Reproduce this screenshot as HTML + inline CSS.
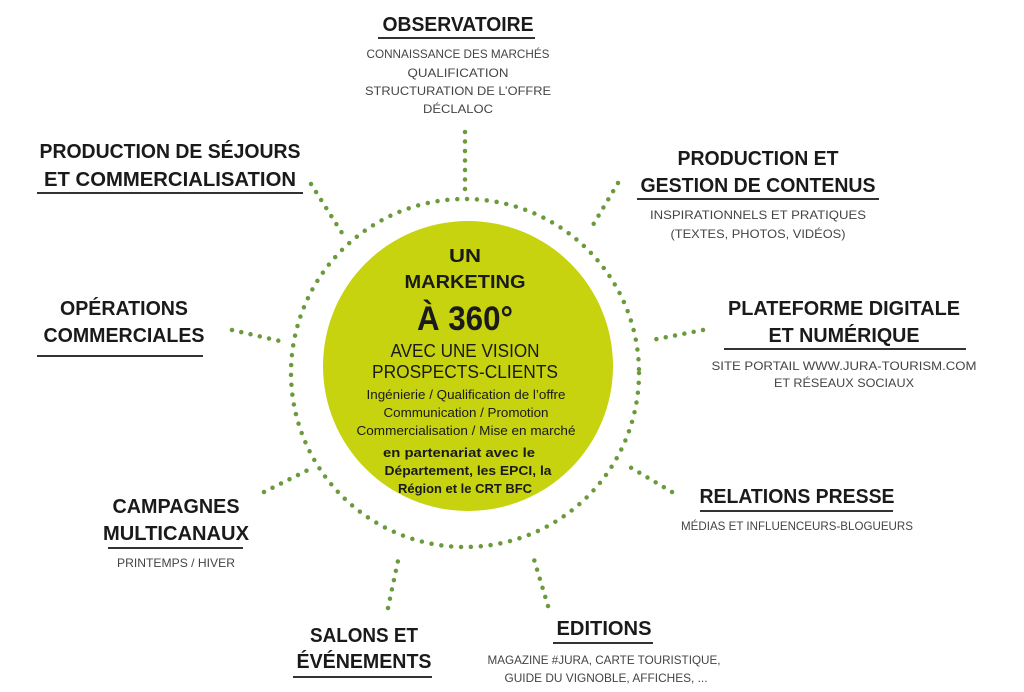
<!DOCTYPE html>
<html><head><meta charset="utf-8"><style>
html,body{margin:0;padding:0;background:#fff;}
svg{display:block;}
.h{font-family:"Liberation Sans",sans-serif;font-weight:bold;font-size:20px;fill:#1a1a1a;}
.s{font-family:"Liberation Sans",sans-serif;font-size:12px;fill:#444;}
.c{font-family:"Liberation Sans",sans-serif;fill:#1a1a1a;}
.d{stroke:#6a9a3c;stroke-width:4.5;stroke-linecap:round;fill:none;stroke-dasharray:0 9.5;}
.u{stroke:#333;stroke-width:2;}
</style></head><body>
<svg width="1024" height="692" viewBox="0 0 1024 692" xmlns="http://www.w3.org/2000/svg">
<rect width="1024" height="692" fill="#fff"/>
<circle cx="468" cy="366" r="145" fill="#c6d30e"/>
<circle cx="465" cy="373" r="174" class="d" style="stroke-dasharray:0 9.9"/>
<!-- rays -->
<line x1="465" y1="132" x2="465" y2="190" class="d"/>
<line x1="618" y1="183" x2="590" y2="230" class="d"/>
<line x1="703" y1="330" x2="652" y2="340" class="d"/>
<line x1="672" y1="492" x2="623" y2="463" class="d"/>
<line x1="548" y1="606" x2="533" y2="556" class="d"/>
<line x1="388" y1="608" x2="399" y2="556" class="d"/>
<line x1="264" y1="492" x2="312" y2="468" class="d"/>
<line x1="232" y1="330" x2="284" y2="342" class="d"/>
<line x1="311" y1="184" x2="342" y2="233" class="d"/>

<g text-anchor="middle">
<text class="c" x="465" y="262" font-size="18" font-weight="bold" textLength="32" lengthAdjust="spacingAndGlyphs">UN</text>
<text class="c" x="465" y="288" font-size="18" font-weight="bold" textLength="121" lengthAdjust="spacingAndGlyphs">MARKETING</text>
<text class="c" x="465" y="330" font-size="34" font-weight="bold" textLength="96" lengthAdjust="spacingAndGlyphs">À 360°</text>
<text class="c" x="465" y="357" font-size="18" textLength="149" lengthAdjust="spacingAndGlyphs" fill="#2a2a2a">AVEC UNE VISION</text>
<text class="c" x="465" y="378" font-size="18" textLength="186" lengthAdjust="spacingAndGlyphs" fill="#2a2a2a">PROSPECTS-CLIENTS</text>
<text class="c" x="466" y="399" font-size="13" textLength="199" lengthAdjust="spacingAndGlyphs" fill="#3a3a3a">Ingénierie / Qualification de l’offre</text>
<text class="c" x="466" y="417" font-size="13" textLength="165" lengthAdjust="spacingAndGlyphs" fill="#3a3a3a">Communication / Promotion</text>
<text class="c" x="466" y="435" font-size="13" textLength="219" lengthAdjust="spacingAndGlyphs" fill="#3a3a3a">Commercialisation / Mise en marché</text>
<text class="c" x="459" y="457" font-size="13" font-weight="bold" textLength="152" lengthAdjust="spacingAndGlyphs">en partenariat avec le</text>
<text class="c" x="468" y="475" font-size="13" font-weight="bold" textLength="167" lengthAdjust="spacingAndGlyphs">Département, les EPCI, la</text>
<text class="c" x="465" y="493" font-size="13" font-weight="bold" textLength="134" lengthAdjust="spacingAndGlyphs">Région et le CRT BFC</text>

<text class="h" x="458" y="31" textLength="151" lengthAdjust="spacingAndGlyphs">OBSERVATOIRE</text>
<text class="s" x="458" y="58" textLength="183" lengthAdjust="spacingAndGlyphs">CONNAISSANCE DES MARCHÉS</text>
<text class="s" x="458" y="77" textLength="101" lengthAdjust="spacingAndGlyphs">QUALIFICATION</text>
<text class="s" x="458" y="95" textLength="186" lengthAdjust="spacingAndGlyphs">STRUCTURATION DE L’OFFRE</text>
<text class="s" x="458" y="113" textLength="70" lengthAdjust="spacingAndGlyphs">DÉCLALOC</text>

<text class="h" x="170" y="158" textLength="261" lengthAdjust="spacingAndGlyphs">PRODUCTION DE SÉJOURS</text>
<text class="h" x="170" y="186" textLength="252" lengthAdjust="spacingAndGlyphs">ET COMMERCIALISATION</text>

<text class="h" x="758" y="165" textLength="161" lengthAdjust="spacingAndGlyphs">PRODUCTION ET</text>
<text class="h" x="758" y="192" textLength="235" lengthAdjust="spacingAndGlyphs">GESTION DE CONTENUS</text>
<text class="s" x="758" y="219" textLength="216" lengthAdjust="spacingAndGlyphs">INSPIRATIONNELS ET PRATIQUES</text>
<text class="s" x="758" y="238" textLength="175" lengthAdjust="spacingAndGlyphs">(TEXTES, PHOTOS, VIDÉOS)</text>

<text class="h" x="124" y="315" textLength="128" lengthAdjust="spacingAndGlyphs">OPÉRATIONS</text>
<text class="h" x="124" y="342" textLength="161" lengthAdjust="spacingAndGlyphs">COMMERCIALES</text>

<text class="h" x="844" y="315" textLength="232" lengthAdjust="spacingAndGlyphs">PLATEFORME DIGITALE</text>
<text class="h" x="844" y="342" textLength="151" lengthAdjust="spacingAndGlyphs">ET NUMÉRIQUE</text>
<text class="s" x="844" y="370" textLength="265" lengthAdjust="spacingAndGlyphs">SITE PORTAIL WWW.JURA-TOURISM.COM</text>
<text class="s" x="844" y="387" textLength="140" lengthAdjust="spacingAndGlyphs">ET RÉSEAUX SOCIAUX</text>

<text class="h" x="176" y="513" textLength="127" lengthAdjust="spacingAndGlyphs">CAMPAGNES</text>
<text class="h" x="176" y="540" textLength="146" lengthAdjust="spacingAndGlyphs">MULTICANAUX</text>
<text class="s" x="176" y="567" textLength="118" lengthAdjust="spacingAndGlyphs">PRINTEMPS / HIVER</text>

<text class="h" x="797" y="503" textLength="195" lengthAdjust="spacingAndGlyphs">RELATIONS PRESSE</text>
<text class="s" x="797" y="530" textLength="232" lengthAdjust="spacingAndGlyphs">MÉDIAS ET INFLUENCEURS-BLOGUEURS</text>

<text class="h" x="364" y="642" textLength="108" lengthAdjust="spacingAndGlyphs">SALONS ET</text>
<text class="h" x="364" y="668" textLength="135" lengthAdjust="spacingAndGlyphs">ÉVÉNEMENTS</text>

<text class="h" x="604" y="635" textLength="95" lengthAdjust="spacingAndGlyphs">EDITIONS</text>
<text class="s" x="604" y="664" textLength="233" lengthAdjust="spacingAndGlyphs">MAGAZINE #JURA, CARTE TOURISTIQUE,</text>
<text class="s" x="606" y="682" textLength="203" lengthAdjust="spacingAndGlyphs">GUIDE DU VIGNOBLE, AFFICHES, ...</text>
</g>

<line class="u" x1="378" y1="38" x2="535" y2="38"/>
<line class="u" x1="37" y1="193" x2="303" y2="193"/>
<line class="u" x1="637" y1="199" x2="879" y2="199"/>
<line class="u" x1="37" y1="356" x2="203" y2="356"/>
<line class="u" x1="724" y1="349" x2="966" y2="349"/>
<line class="u" x1="108" y1="548" x2="243" y2="548"/>
<line class="u" x1="700" y1="511" x2="893" y2="511"/>
<line class="u" x1="293" y1="677" x2="432" y2="677"/>
<line class="u" x1="553" y1="643" x2="653" y2="643"/>
</svg>
</body></html>
